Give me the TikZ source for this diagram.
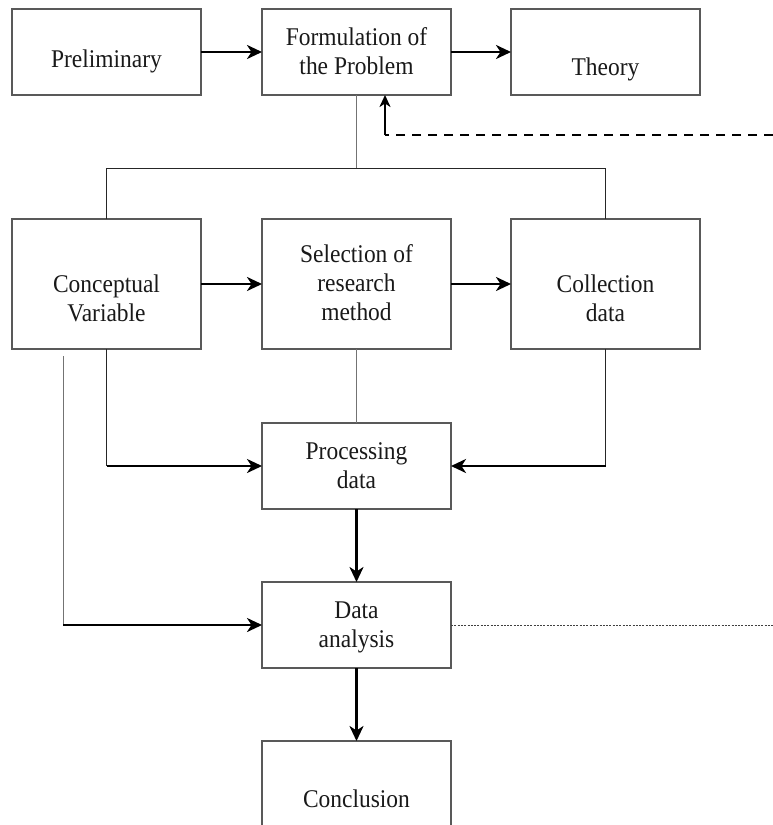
\documentclass[tikz,border=0pt]{standalone}
\usepackage{fontspec}
\setmainfont[FakeStretch=0.92]{Liberation Serif}
\usetikzlibrary{arrows.meta}
\begin{document}
\begin{tikzpicture}[x=1pt,y=-1pt,
  box/.style={draw=black!65, line width=1.2pt, minimum width=189pt,
              inner sep=0pt, outer sep=0pt},
  boxlow/.style={box, minimum height=86pt},
  boxtall/.style={box, minimum height=130pt},
  lbl/.style={font=\fontsize{25.5}{29}\selectfont, align=center,
              inner sep=0pt, text=black!90},
  link/.style={line width=1pt, draw=black!85},
  greylink/.style={line width=1pt, draw=black!55},
  flow/.style={line width=2.6pt, -{Stealth[length=15pt,width=14pt,inset=4.5pt]}},
  backflow/.style={line width=2.2pt, -{Stealth[length=12pt,width=11pt,inset=3.5pt]}},
  dashline/.style={line width=2pt, dash pattern=on 9pt off 7pt},
  dotline/.style={line width=0.9pt, draw=black!75, dash pattern=on 2pt off 1.3pt}
]
\useasboundingbox (0,0) rectangle (773,825);

% boxes
\node[boxlow]  (prelim)   at (106.5,52)  {};
\node[boxlow]  (form)     at (356.5,52)  {};
\node[boxlow]  (theory)   at (605.5,52)  {};
\node[boxtall] (concept)  at (106.5,284) {};
\node[boxtall] (select)   at (356.5,284) {};
\node[boxtall] (collect)  at (605.5,284) {};
\node[boxlow]  (process)  at (356.5,466) {};
\node[boxlow]  (analysis) at (356.5,625) {};
\node[boxtall] (concl)    at (356.5,806) {};

% labels
\node[lbl] (tprelim)   at (106.5,61)   {Preliminary};
\node[lbl] (tform)     at (356.5,51.5) {Formulation of\\the Problem};
\node[lbl] (ttheory)   at (605.5,69)   {Theory};
\node[lbl] (tconcept)  at (106.5,298.5){Conceptual\\Variable};
\node[lbl] (tselect)   at (356.5,283)  {Selection of\\research\\method};
\node[lbl] (tcollect)  at (605.5,298.5){Collection\\data};
\node[lbl] (tprocess)  at (356.5,465.5){Processing\\data};
\node[lbl] (tanalysis) at (356.5,627.5){Data\\analysis};
\node[lbl] (tconcl)    at (356.5,798.5){Conclusion};

% top row
\draw[flow] (prelim.east) -- (form.west);
\draw[flow] (form.east) -- (theory.west);

% bus from the problem formulation to the second row
\coordinate (busL) at (106.5,168);
\coordinate (busR) at (605.5,168);
\draw[greylink] (form.south) -- (form.south |- busL);
\draw[link] (concept.north) -- (busL) -- (busR) -- (collect.north);

% feedback into the problem formulation
\coordinate (fbEnd) at (773,135);
\coordinate (fbTurn) at (385,135);
\draw[dashline] (fbEnd) -- (fbTurn);
\draw[backflow] (fbTurn) -- (fbTurn |- form.south);

% second row
\draw[flow] (concept.east) -- (select.west);
\draw[flow] (select.east) -- (collect.west);

% into processing
\coordinate (cvTurn) at (concept.south |- process.west);
\coordinate (cdTurn) at (collect.south |- process.east);
\draw[link] (concept.south) -- (cvTurn);
\draw[flow] (cvTurn) -- (process.west);
\draw[link] (collect.south) -- (cdTurn);
\draw[flow] (cdTurn) -- (process.east);
\draw[greylink] (select.south) -- (process.north);

% side path into data analysis
\coordinate (sideTop) at (63,356);
\coordinate (sideTurn) at (sideTop |- analysis.west);
\draw[greylink] (sideTop) -- (sideTurn);
\draw[flow] (sideTurn) -- (analysis.west);

% downward flow
\draw[flow] (process.south) -- (analysis.north);
\draw[flow] (analysis.south) -- (concl.north);

% dotted lead to the right
\coordinate (dotEnd) at (773,625);
\draw[dotline] (analysis.east) -- (dotEnd);
\end{tikzpicture}
\end{document}
